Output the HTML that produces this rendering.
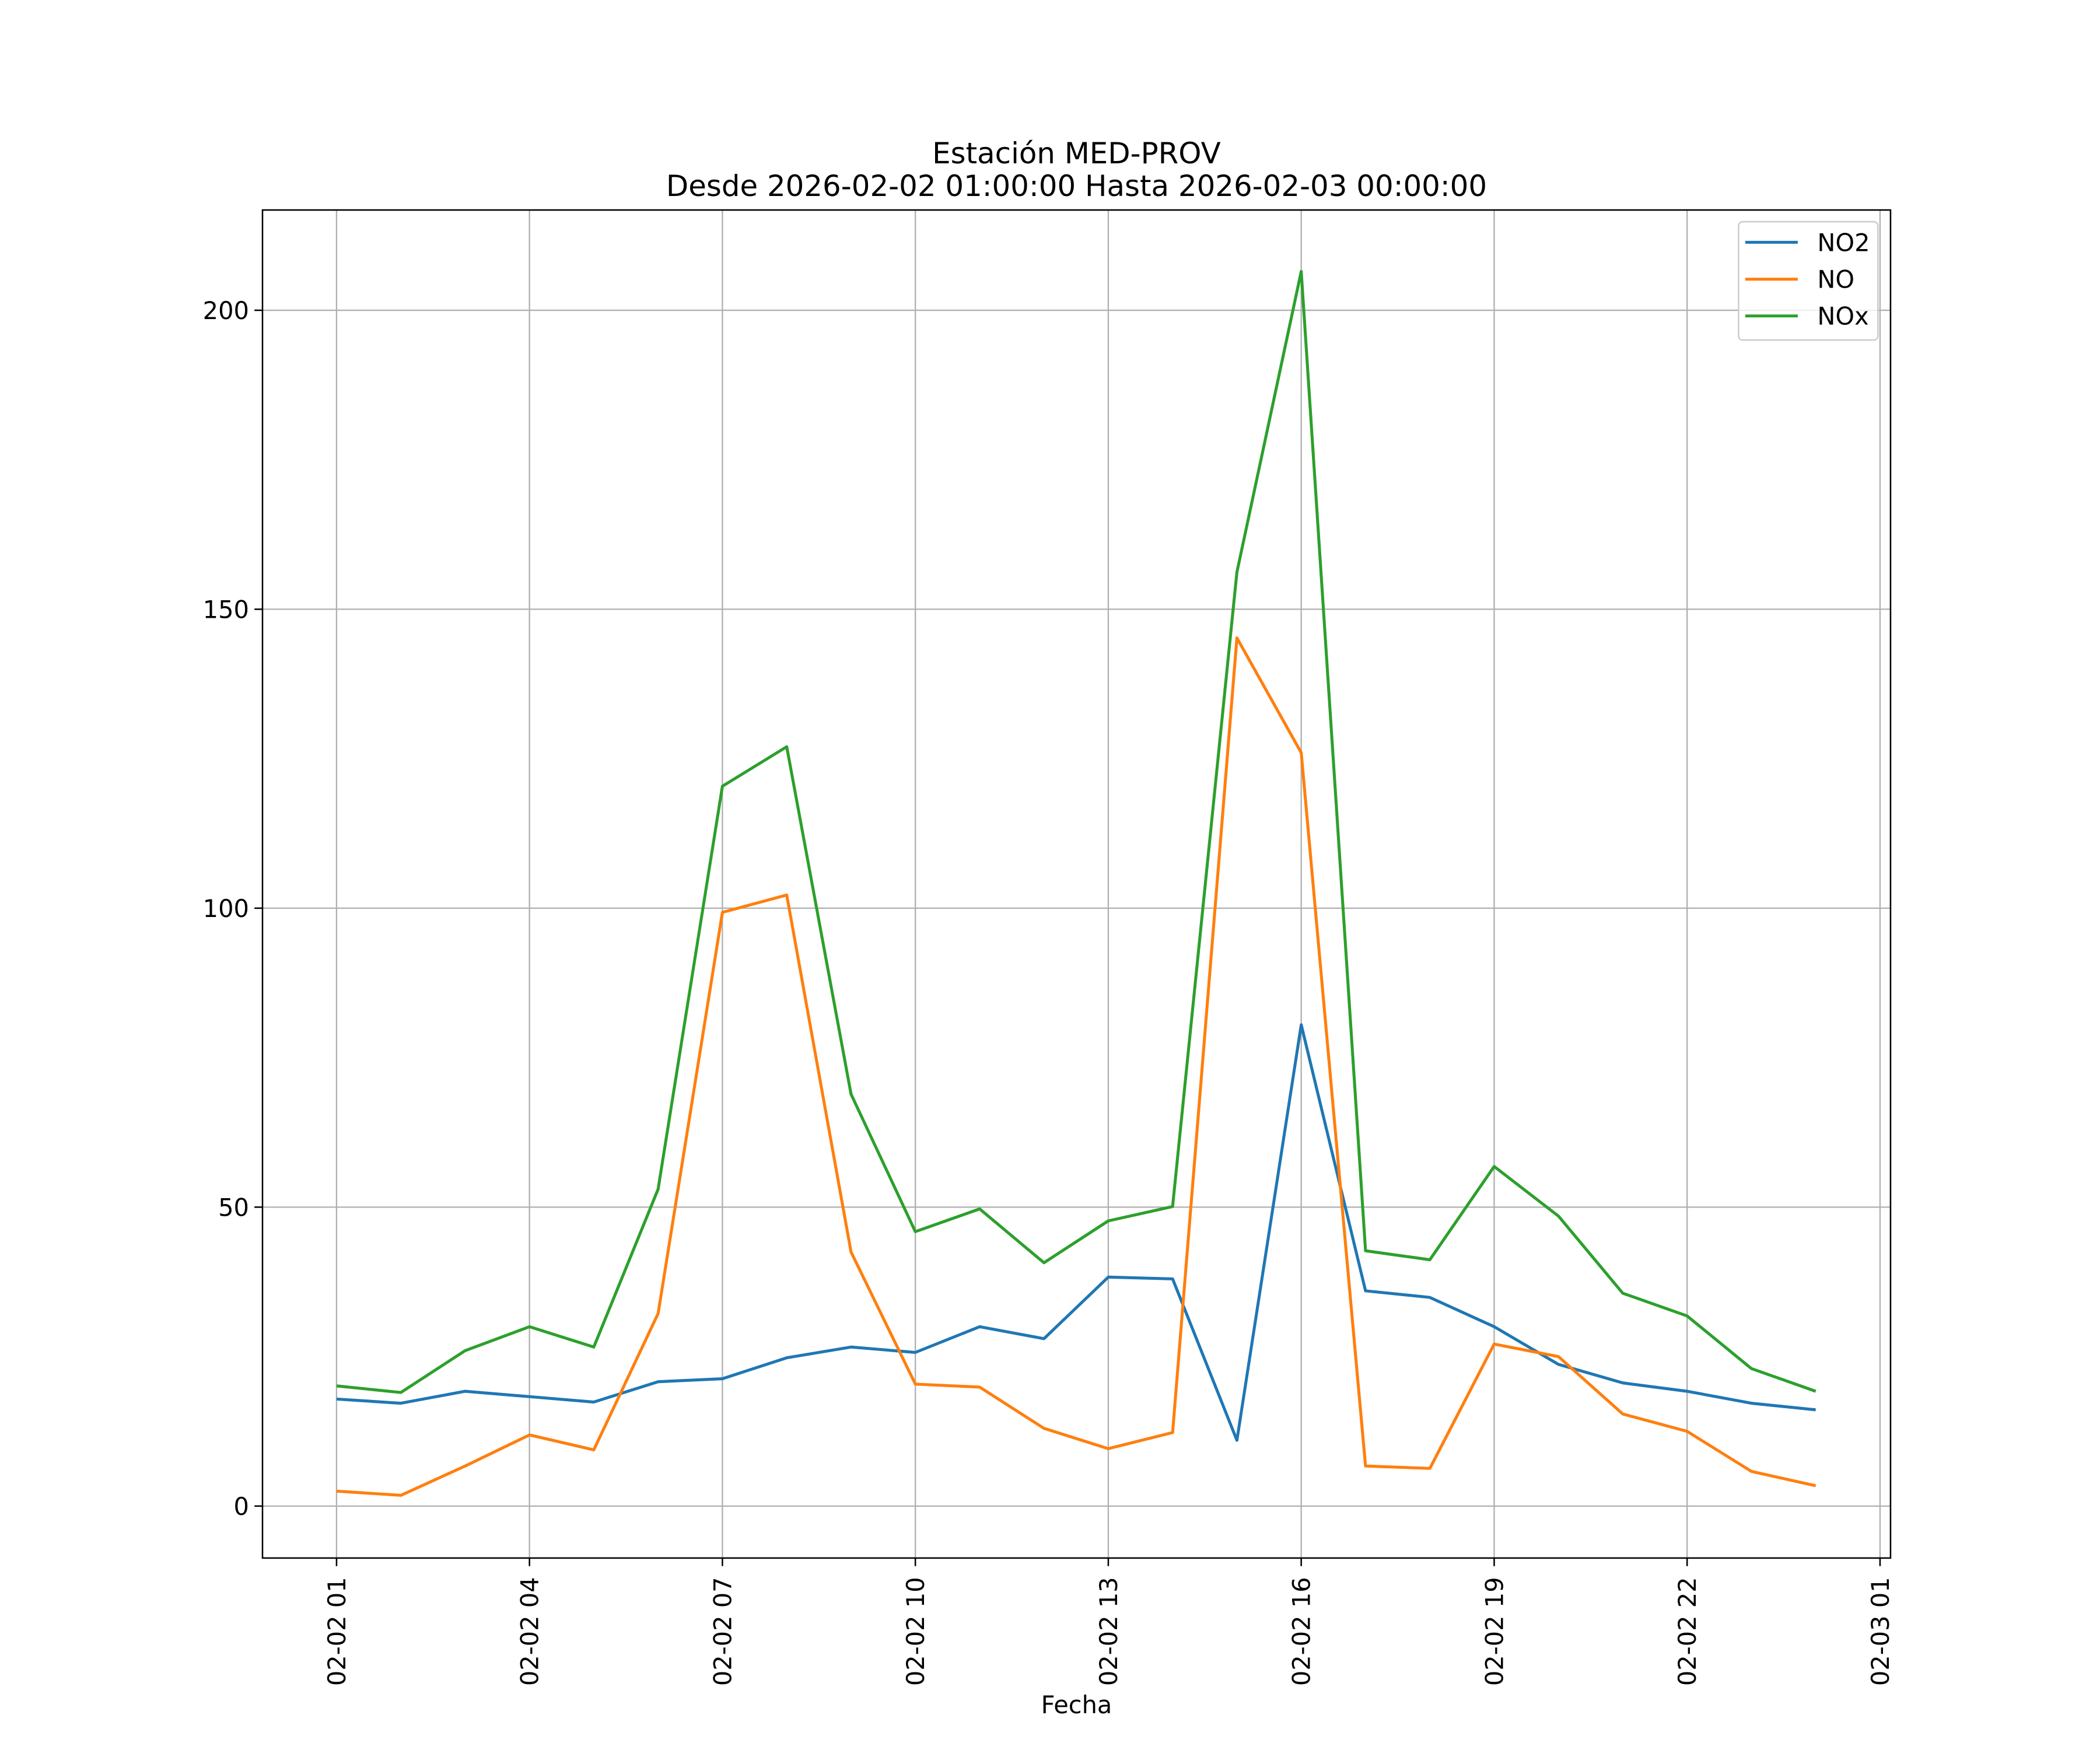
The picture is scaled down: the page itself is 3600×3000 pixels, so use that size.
<!DOCTYPE html>
<html><head><meta charset="utf-8"><style>html,body{margin:0;padding:0;background:#fff}svg{display:block}text{font-family:"DejaVu Sans","Liberation Sans",sans-serif;fill:#000}</style></head>
<body>
<svg id="chart" width="3600" height="3000" viewBox="0 0 1560 1300" xmlns="http://www.w3.org/2000/svg">
<rect width="1560" height="1300" fill="#fff"/>
<g id="grid"></g>
<g id="series"></g>
<rect x="195" y="156" width="1209.4" height="1001.4" fill="none" stroke="#000" stroke-width="1.1"/>
<g id="ticks"></g>
<text x="799.7" y="121.3" text-anchor="middle" font-size="21.6">Estación MED-PROV</text>
<text x="799.7" y="145.6" text-anchor="middle" font-size="21.6">Desde 2026-02-02 01:00:00 Hasta 2026-02-03 00:00:00</text>
<text x="799.7" y="1272.7" text-anchor="middle" font-size="18">Fecha</text>
<g>
<rect x="1291.5" y="164.7" width="103.5" height="87.9" rx="3" fill="#fff" fill-opacity="0.8" stroke="#ccc" stroke-width="1.1"/>
<line x1="1296.5" y1="180" x2="1335.5" y2="180" stroke="#1f77b4" stroke-width="2.2"/>
<text x="1350" y="186.5" font-size="18">NO2</text>
<line x1="1296.5" y1="207.4" x2="1335.5" y2="207.4" stroke="#ff7f0e" stroke-width="2.2"/>
<text x="1350" y="213.9" font-size="18">NO</text>
<line x1="1296.5" y1="234.7" x2="1335.5" y2="234.7" stroke="#2ca02c" stroke-width="2.2"/>
<text x="1350" y="241.2" font-size="18">NOx</text>
</g>
</svg>
<script>
const hours = [1,2,3,4,5,6,7,8,9,10,11,12,13,14,15,16,17,18,19,20,21,22,23,24];
const no2 = [17.9,17.2,19.2,18.3,17.4,20.8,21.3,24.8,26.6,25.7,30,28,38.3,38,11,80.5,36,34.9,30,23.7,20.6,19.2,17.2,16.1];
const no = [2.5,1.8,6.7,11.9,9.4,32.2,99.3,102.2,42.5,20.4,19.9,13,9.6,12.3,145.2,126,6.7,6.3,27.1,25,15.4,12.5,5.8,3.4];
const nox = [20.1,19,26,30,26.6,53,120.4,127,68.9,45.9,49.7,40.7,47.7,50.1,156.2,206.5,42.7,41.2,56.8,48.5,35.6,31.8,23,19.2];
const yTicks = [0,50,100,150,200];
const xTickHours = [1,4,7,10,13,16,19,22,25];
const xTickLabels = ["02-02 01","02-02 04","02-02 07","02-02 10","02-02 13","02-02 16","02-02 19","02-02 22","02-03 01"];
const NS="http://www.w3.org/2000/svg";
const L=195,R=1404.4,T=156,B=1157.4;
function xs(h){return 250+(h-1)*47.775;}
function ys(v){return 1118.8-v*4.4415;}
function mk(tag,attrs,parent){const e=document.createElementNS(NS,tag);for(const k in attrs)e.setAttribute(k,attrs[k]);parent.appendChild(e);return e;}
const grid=document.getElementById('grid'),ticks=document.getElementById('ticks'),series=document.getElementById('series');
yTicks.forEach(v=>{
 const g=mk('line',{x1:L,x2:R,y1:ys(v),y2:ys(v),stroke:'#b0b0b0','stroke-width':1},grid);
 
 
 mk('line',{x1:L-6,x2:L,y1:ys(v),y2:ys(v),stroke:'#000','stroke-width':1.1},ticks);
 const t=mk('text',{x:L-10,y:ys(v)+6.5,'text-anchor':'end','font-size':'18'},ticks);
 t.textContent=v;
 
 
});
xTickHours.forEach((h,i)=>{
 const g=mk('line',{x1:xs(h),x2:xs(h),y1:T,y2:B,stroke:'#b0b0b0','stroke-width':1},grid);
 
 
 mk('line',{x1:xs(h),x2:xs(h),y1:B,y2:B+6,stroke:'#000','stroke-width':1.1},ticks);
 const t=mk('text',{transform:`translate(${xs(h)+6.5},1171.5) rotate(-90)`,'text-anchor':'end','font-size':'18'},ticks);
 t.textContent=xTickLabels[i];
 
 
});
[[no2,'#1f77b4','line-no2'],[no,'#ff7f0e','line-no'],[nox,'#2ca02c','line-nox']].forEach(([d,c,n])=>{
 const p=mk('polyline',{points:d.map((v,i)=>xs(hours[i])+','+ys(v)).join(' '),fill:'none',stroke:c,'stroke-width':2.2,'stroke-linejoin':'round'},series);
 
 
});
</script>
</body></html>
